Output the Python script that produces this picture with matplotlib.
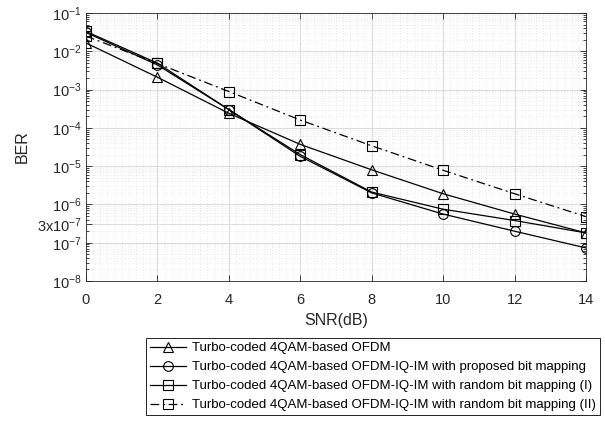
import numpy as np
import matplotlib
matplotlib.use("Agg")
import matplotlib.pyplot as plt
from matplotlib.ticker import MultipleLocator, FixedLocator, NullFormatter

plt.rcParams['font.family'] = ['Liberation Sans', 'DejaVu Sans']
plt.rcParams['mathtext.fontset'] = 'custom'
plt.rcParams['mathtext.rm'] = 'Liberation Sans'
plt.rcParams['mathtext.it'] = 'Liberation Sans'
plt.rcParams['mathtext.default'] = 'regular'

# SNR points and BER curves
snr = [0, 2, 4, 6, 8, 10, 12, 14]
ber_ofdm = [1.65e-2, 2.1e-3, 2.4e-4, 3.7e-5, 8.0e-6, 1.9e-6, 5.6e-7, 1.8e-7]
ber_proposed = [3.1e-2, 4.4e-3, 3.0e-4, 1.8e-5, 2.0e-6, 5.6e-7, 2.0e-7, 7.3e-8]
ber_random1 = [3.3e-2, 4.9e-3, 3.0e-4, 2.0e-5, 2.1e-6, 7.5e-7, 3.8e-7, 1.8e-7]
ber_random2 = [2.5e-2, 4.8e-3, 8.9e-4, 1.6e-4, 3.4e-5, 7.8e-6, 1.9e-6, 4.8e-7]

labels = ['Turbo-coded 4QAM-based OFDM',
          'Turbo-coded 4QAM-based OFDM-IQ-IM with proposed bit mapping',
          'Turbo-coded 4QAM-based OFDM-IQ-IM with random bit mapping (I)',
          'Turbo-coded 4QAM-based OFDM-IQ-IM with random bit mapping (II)']

ytick_vals = [1e-8, 1e-7, 3e-7, 1e-6, 1e-5, 1e-4, 1e-3, 1e-2, 1e-1]
ytick_text = ['$10^{-8}$', '$10^{-7}$', '3x$10^{-7}$', '$10^{-6}$', '$10^{-5}$',
              '$10^{-4}$', '$10^{-3}$', '$10^{-2}$', '$10^{-1}$']

fig = plt.figure(figsize=(6.05, 4.22), dpi=100)
ax = fig.add_axes([86 / 605, 141 / 422, 500 / 605, 268 / 422])

common = dict(color='black', lw=0.9, ms=7, mfc='none', mec='black', mew=0.8)
ax.semilogy(snr, ber_ofdm, '-', marker='^', label=labels[0], **common)
ax.semilogy(snr, ber_proposed, '-', marker='o', label=labels[1], **common)
ax.semilogy(snr, ber_random1, '-', marker='s', label=labels[2], **common)
ax.semilogy(snr, ber_random2, linestyle=(0, (7, 3, 1.5, 3)), marker='s',
            label=labels[3], **common)

ax.set_xlim(0, 14)
ax.set_ylim(1e-8, 1e-1)
ax.xaxis.set_major_locator(MultipleLocator(2))
ax.xaxis.set_minor_locator(MultipleLocator(0.2))
ax.yaxis.set_major_locator(FixedLocator(ytick_vals))
ax.set_yticklabels(ytick_text)
minors = [m * 10.0 ** e for e in range(-8, -1) for m in range(2, 10)]
ax.yaxis.set_minor_locator(FixedLocator(minors))
ax.yaxis.set_minor_formatter(NullFormatter())

ax.grid(True, which='major', color='#dcdcdc', lw=0.8)
ax.grid(True, which='minor', color='#d4d4d4', lw=0.5, linestyle=(0, (1, 3)))
ax.set_axisbelow(True)

ax.tick_params(which='both', direction='in', top=True, right=True,
               labelsize=10.5, colors='#262626', width=0.6)
ax.tick_params(which='major', length=4)
ax.tick_params(axis='y', which='minor', length=2)
ax.tick_params(axis='x', which='minor', length=0)
ax.tick_params(axis='y', pad=3)
ax.tick_params(axis='x', pad=9)
for s in ax.spines.values():
    s.set_color('#262626')
    s.set_linewidth(0.6)

ax.set_xlabel('SNR(dB)', fontsize=11.5, color='#262626', labelpad=4)
ax.set_ylabel('BER', fontsize=11.5, color='#262626', labelpad=5)

leg = fig.legend(loc='upper right', bbox_to_anchor=(600 / 605, 1 - 338 / 422),
                 fontsize=9.5, handlelength=2.7, handletextpad=0.5,
                 labelspacing=0.52, borderpad=0.3, fancybox=False,
                 edgecolor='black', framealpha=1, borderaxespad=0)
leg.get_frame().set_linewidth(0.6)

fig.savefig('out.png', dpi=100)
